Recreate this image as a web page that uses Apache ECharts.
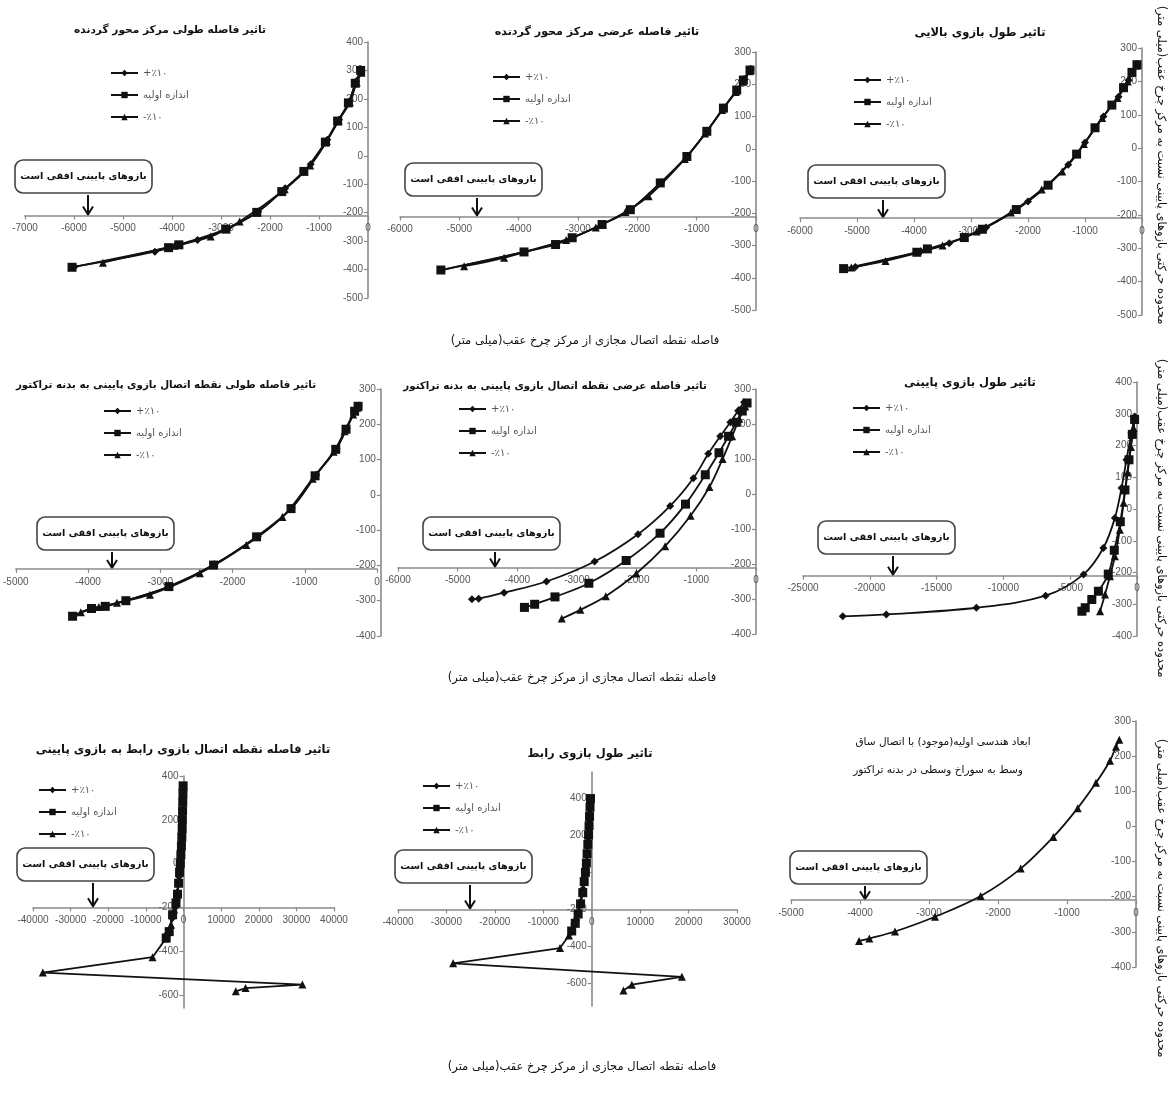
<!DOCTYPE html>
<html>
<head>
<meta charset="utf-8">
<script src="https://cdn.jsdelivr.net/npm/echarts@6/dist/echarts.min.js"></script>
<style>
  html, body { margin: 0; padding: 0; background: #fff; }
  #chart { width: 1173px; height: 1097px; }
</style>
</head>
<body>
<div id="chart"></div>
<script>
// ---- names and texts ----
const SERIES_NAMES = ['+٪۱۰', 'اندازه اولیه', '-٪۱۰'];
const BASE9_NAME = 'ابعاد هندسی اولیه';
const TITLES = [
  'تاثیر فاصله طولی مرکز محور گردنده',
  'تاثیر فاصله عرضی مرکز محور گردنده',
  'تاثیر طول بازوی بالایی',
  'تاثیر فاصله طولی نقطه اتصال بازوی پایینی به بدنه تراکتور',
  'تاثیر فاصله عرضی نقطه اتصال بازوی پایینی به بدنه تراکتور',
  'تاثیر طول بازوی پایینی',
  'تاثیر فاصله نقطه اتصال بازوی رابط به بازوی پایینی',
  'تاثیر طول بازوی رابط'
];
const TITLE9 = ['ابعاد هندسی اولیه(موجود) با اتصال ساق', 'وسط به سوراخ وسطی در بدنه تراکتور'];
const NOTE_TEXT = 'بازوهای پایینی افقی است';
const X_CAPTION = 'فاصله نقطه اتصال مجازی از مرکز چرخ عقب(میلی متر)';
const Y_CAPTION = 'محدوده حرکتی بازوهای پایینی نسبت به مرکز چرخ عقب(میلی متر)';

// ---- axis ranges and ticks ----
const X_RANGES = [[-7000, 0], [-6000, 0], [-6000, 0], [-5000, 0], [-6000, 0], [-25000, 0], [-40000, 40000], [-40000, 30000], [-5000, 0]];
const X_STEPS = [1000, 1000, 1000, 1000, 1000, 5000, 10000, 10000, 1000];
const Y_RANGES = [[-500, 400], [-500, 300], [-500, 300], [-400, 300], [-400, 300], [-400, 400], [-660, 400], [-720, 540], [-400, 300]];
const Y_STEPS = [100, 100, 100, 100, 100, 100, 200, 200, 100];
const Y_TICKS_WIDE = [-600, -400, -200, 0, 200, 400];
const X_AXIS_CROSS = [-210, -210, -210, -210, -210, -210, -200, -200, -210];
const Y_AXIS_CROSS = 0;

// ---- series values [x, y] ----
const c1Plus  = [[-140,297],[-240,262],[-380,191],[-590,127],[-830,56],[-1170,-30],[-1690,-114],[-2240,-196],[-2860,-255],[-3480,-296],[-4350,-337],[-5990,-390]];
const c1Base  = [[-150,300],[-260,255],[-400,186],[-620,122],[-870,48],[-1310,-55],[-1760,-126],[-2270,-199],[-2900,-258],[-3860,-313],[-4070,-323],[-6040,-392]];
const c1Minus = [[-130,292],[-230,258],[-370,188],[-600,124],[-840,52],[-1180,-34],[-1700,-118],[-2620,-231],[-3210,-284],[-3950,-316],[-5410,-376]];

const c2Plus  = [[-90,248],[-200,216],[-330,180],[-540,128],[-820,56],[-1160,-22],[-1600,-104],[-2110,-187],[-2590,-234],[-3090,-275],[-3900,-320],[-5300,-376]];
const c2Base  = [[-101,244],[-213,213],[-325,182],[-549,126],[-829,54],[-1165,-24],[-1613,-106],[-2118,-189],[-2594,-235],[-3098,-276],[-3378,-297],[-3910,-320],[-5311,-376]];
const c2Minus = [[-110,240],[-225,208],[-340,176],[-570,120],[-860,47],[-1200,-32],[-1810,-147],[-2200,-196],[-2700,-244],[-3200,-283],[-4246,-338],[-4919,-364]];

const c3Plus  = [[-80,252],[-235,203],[-412,154],[-676,95],[-1000,17],[-1294,-50],[-2000,-160],[-2735,-238],[-3382,-285],[-3882,-309],[-5029,-356]];
const c3Base  = [[-88,250],[-176,227],[-324,181],[-529,129],[-824,61],[-1147,-18],[-1647,-111],[-2206,-184],[-2800,-243],[-3118,-268],[-3765,-302],[-3950,-312],[-5235,-361]];
const c3Minus = [[-95,247],[-250,200],[-430,150],[-700,90],[-1020,12],[-1400,-70],[-1760,-124],[-2300,-193],[-2900,-250],[-3500,-292],[-4500,-338],[-5100,-358]];

const c4Plus  = [[-255,253],[-300,238],[-420,188],[-560,131],[-840,57],[-1180,-37],[-1650,-117],[-2250,-197],[-2870,-259],[-3460,-299],[-3750,-315],[-3950,-322],[-4200,-343]];
const c4Base  = [[-262,251],[-310,237],[-429,186],[-571,129],[-857,54],[-1190,-39],[-1667,-119],[-2262,-199],[-2881,-260],[-3476,-300],[-3762,-316],[-3952,-322],[-4214,-344]];
const c4Minus = [[-270,247],[-330,228],[-450,180],[-600,122],[-890,46],[-1310,-63],[-1810,-142],[-2452,-222],[-3143,-283],[-3600,-306],[-3850,-318],[-4100,-333]];

const c5Plus  = [[-200,262],[-300,238],[-430,205],[-600,165],[-800,115],[-1050,45],[-1438,-34],[-1977,-115],[-2705,-193],[-3511,-250],[-4222,-282],[-4648,-299],[-4761,-301]];
const c5Base  = [[-150,260],[-230,237],[-330,205],[-460,165],[-620,118],[-850,55],[-1182,-29],[-1608,-112],[-2176,-190],[-2801,-255],[-3369,-294],[-3710,-315],[-3881,-324]];
const c5Minus = [[-180,250],[-280,215],[-400,165],[-560,100],[-780,20],[-1097,-62],[-1523,-149],[-2006,-227],[-2517,-292],[-2943,-331],[-3256,-356]];

const c6Plus  = [[-173,291],[-420,239],[-790,155],[-1160,66],[-1654,-28],[-2519,-123],[-4000,-206],[-6840,-273],[-12025,-311],[-18765,-332],[-22025,-338]];
const c6Base  = [[-180,282],[-350,235],[-600,155],[-900,60],[-1250,-40],[-1700,-130],[-2150,-205],[-2889,-259],[-3383,-285],[-3877,-311],[-4123,-322]];
const c6Minus = [[-150,285],[-260,255],[-450,195],[-700,115],[-1000,20],[-1284,-65],[-1654,-149],[-2025,-212],[-2395,-269],[-2765,-322]];

const c7Plus  = [[-100,350],[-180,300],[-280,240],[-380,180],[-500,120],[-650,60],[-900,0],[-1200,-60],[-1600,-130],[-2200,-200],[-3000,-250],[-4200,-320]];
const c7Base  = [[-100,355],[-150,320],[-200,280],[-250,240],[-300,200],[-350,160],[-450,120],[-550,80],[-700,40],[-850,0],[-1050,-40],[-1300,-90],[-1600,-140],[-2000,-180],[-2900,-234],[-3800,-311],[-4600,-340]];
const c7Minus = [[-100,345],[-200,290],[-300,230],[-400,170],[-550,110],[-750,50],[-1000,-10],[-1350,-80],[-1800,-150],[-2500,-210],[-3300,-280],[-4700,-343],[-8230,-428],[-37400,-498],[31600,-553],[16500,-569],[13900,-584]];

const c8Plus  = [[-300,390],[-400,340],[-500,280],[-600,220],[-750,160],[-900,100],[-1100,40],[-1400,-20],[-1800,-90],[-2300,-160],[-2900,-220],[-3600,-280],[-4200,-320]];
const c8Base  = [[-250,397],[-350,350],[-450,300],[-550,250],[-650,200],[-800,150],[-950,100],[-1100,50],[-1300,0],[-1550,-50],[-1850,-110],[-2300,-170],[-2800,-225],[-3400,-275],[-4140,-316]];
const c8Minus = [[-300,385],[-450,320],[-600,250],[-750,180],[-950,110],[-1200,40],[-1500,-30],[-1900,-100],[-2500,-170],[-3200,-240],[-4000,-300],[-4700,-340],[-6550,-408],[-28620,-490],[18620,-563],[8280,-605],[6550,-636]];

const c9Base  = [[-242,247],[-290,227],[-377,187],[-580,124],[-845,52],[-1198,-30],[-1671,-120],[-2251,-198],[-2913,-257],[-3493,-299],[-3865,-319],[-4014,-326]];

const PANEL_SERIES = [
  [c1Plus, c1Base, c1Minus], [c2Plus, c2Base, c2Minus], [c3Plus, c3Base, c3Minus],
  [c4Plus, c4Base, c4Minus], [c5Plus, c5Base, c5Minus], [c6Plus, c6Base, c6Minus],
  [c7Plus, c7Base, c7Minus], [c8Plus, c8Base, c8Minus]
];

// ---- page layout (pixel boxes of each plot area) ----
const LAYOUT = [
  { x0: 25,  x1: 368,  y0: 42,  y1: 298 },
  { x0: 400, x1: 756,  y0: 52,  y1: 310 },
  { x0: 800, x1: 1142, y0: 48,  y1: 315 },
  { x0: 12,  x1: 377,  y0: 389, y1: 636 },
  { x0: 398, x1: 756,  y0: 389, y1: 634 },
  { x0: 803, x1: 1137, y0: 382, y1: 636 },
  { x0: 33,  x1: 334,  y0: 776, y1: 1008 },
  { x0: 398, x1: 737,  y0: 772, y1: 1006 },
  { x0: 791, x1: 1136, y0: 721, y1: 967 }
];
const TITLE_POS = [[170, 30], [597, 32], [980, 33], [166, 385], [555, 386], [970, 383], [183, 750], [590, 754]];
const TITLE_SIZE = [10.6, 11.1, 11.5, 10.3, 10.3, 11.5, 11.5, 11.5];
const TITLE9_POS = [[943, 742], [938, 770]];
const LEGEND_POS = [[110, 68], [492, 72], [853, 75], [103, 406], [458, 404], [852, 403], [38, 785], [422, 781]];
const NOTE_POS = [[15, 160, 88], [405, 163, 477], [808, 165, 883], [37, 517, 112], [423, 517, 495], [818, 521, 893], [17, 848, 93], [395, 850, 470], [790, 851, 865]];
const X_CAPTION_POS = [[585, 341], [582, 678], [582, 1067]];
const Y_CAPTION_POS = [[1161, 165], [1161, 518], [1161, 898]];

const FA = '"DejaVu Sans", sans-serif';
const NUM = '"Liberation Sans", Arial, sans-serif';
const AXIS_COLOR = '#8a8a8a';
const LABEL_COLOR = '#555';
const INK = '#111';

const grids = [], xAxes = [], yAxes = [], series = [], legends = [], graphics = [];

function crossPx(i) {
  const L = LAYOUT[i], yr = Y_RANGES[i];
  return L.y0 + (yr[1] - X_AXIS_CROSS[i]) / (yr[1] - yr[0]) * (L.y1 - L.y0);
}
const plain = v => String(v);

LAYOUT.forEach((L, i) => {
  const w = L.x1 - L.x0, h = L.y1 - L.y0;
  grids.push({ left: L.x0, top: L.y0, width: w, height: h, containLabel: false });
  const xr = X_RANGES[i], yr = Y_RANGES[i];
  // horizontal axis crosses the vertical one at X_AXIS_CROSS, vertical axis sits at x = 0
  const xOffset = -(X_AXIS_CROSS[i] - yr[0]) / (yr[1] - yr[0]) * h;
  const yOffset = -(Y_AXIS_CROSS - xr[0]) / (xr[1] - xr[0]) * w;
  xAxes.push({
    gridIndex: i, type: 'value', min: xr[0], max: xr[1], interval: X_STEPS[i],
    position: 'bottom', offset: xOffset,
    axisLine: { onZero: false, lineStyle: { color: AXIS_COLOR, width: 1.6 } },
    axisTick: { show: true, length: 4, lineStyle: { color: AXIS_COLOR, width: 1.2 } },
    axisLabel: { color: LABEL_COLOR, fontSize: 10, fontFamily: NUM, margin: 8, showMinLabel: true, showMaxLabel: true, formatter: plain },
    splitLine: { show: false }
  });
  const wide = (i === 6 || i === 7);
  const yAxis = {
    gridIndex: i, type: 'value', min: yr[0], max: yr[1],
    position: 'left', offset: yOffset,
    axisLine: { onZero: false, lineStyle: { color: AXIS_COLOR, width: 1.6 } },
    axisTick: { show: true, length: 4, lineStyle: { color: AXIS_COLOR, width: 1.2 } },
    axisLabel: { color: LABEL_COLOR, fontSize: 10, fontFamily: NUM, margin: 5, formatter: plain },
    splitLine: { show: false }
  };
  if (wide) {
    yAxis.axisTick.customValues = Y_TICKS_WIDE;
    yAxis.axisLabel.customValues = Y_TICKS_WIDE;
  } else {
    yAxis.interval = Y_STEPS[i];
  }
  yAxes.push(yAxis);
});

const MARKS = [
  { symbol: 'diamond', symbolSize: 8 },
  { symbol: 'rect', symbolSize: 9 },
  { symbol: 'triangle', symbolSize: 8 }
];

function addLine(i, name, data, mark, smooth) {
  series.push({
    type: 'line', name: name, xAxisIndex: i, yAxisIndex: i, data: data,
    symbol: mark.symbol, symbolSize: mark.symbolSize, showAllSymbol: true,
    smooth: smooth, clip: false,
    lineStyle: { color: INK, width: 1.8 },
    itemStyle: { color: INK },
    emphasis: { disabled: true }
  });
}

PANEL_SERIES.forEach((set, i) => {
  const smooth = (i === 6 || i === 7) ? false : 0.35;
  set.forEach((data, k) => addLine(i, SERIES_NAMES[k], data, MARKS[k], smooth));
});
addLine(8, BASE9_NAME, c9Base, MARKS[2], 0.35);

LEGEND_POS.forEach(p => {
  legends.push({
    data: SERIES_NAMES, orient: 'vertical', left: p[0], top: p[1], padding: 0,
    itemWidth: 27, itemHeight: 8, itemGap: 12, selectedMode: false,
    textStyle: { color: LABEL_COLOR, fontSize: 10, fontFamily: FA }
  });
});

function text(x, y, s, size, weight, extra) {
  graphics.push(Object.assign({
    type: 'text', x: x, y: y, silent: true,
    style: { text: s, fontSize: size, fontWeight: weight, fontFamily: FA, fill: INK, align: 'center', verticalAlign: 'middle' }
  }, extra || {}));
}

TITLES.forEach((t, i) => text(TITLE_POS[i][0], TITLE_POS[i][1], t, TITLE_SIZE[i], 'bold'));
TITLE9.forEach((t, k) => text(TITLE9_POS[k][0], TITLE9_POS[k][1], t, 10.5, 'normal'));
X_CAPTION_POS.forEach(p => text(p[0], p[1], X_CAPTION, 11.5, 'normal'));
Y_CAPTION_POS.forEach(p => text(p[0], p[1], Y_CAPTION, 11.5, 'normal', { rotation: -Math.PI / 2 }));

NOTE_POS.forEach((p, i) => {
  const left = p[0], top = p[1], ax = p[2], w = 137, hgt = 33;
  const endY = crossPx(i) - 1;
  graphics.push({ type: 'rect', silent: true, shape: { x: left, y: top, width: w, height: hgt, r: 8 },
    style: { fill: '#fff', stroke: '#444', lineWidth: 1.6 } });
  text(left + w / 2, top + hgt / 2, NOTE_TEXT, 9.7, 'bold');
  graphics.push({ type: 'line', silent: true, shape: { x1: ax, y1: top + hgt + 2, x2: ax, y2: endY },
    style: { stroke: INK, lineWidth: 2 } });
  graphics.push({ type: 'polyline', silent: true,
    shape: { points: [[ax - 5, endY - 8], [ax, endY], [ax + 5, endY - 8]] },
    style: { stroke: INK, lineWidth: 2, fill: null } });
});

const chart = echarts.init(document.getElementById('chart'), null, { renderer: 'canvas' });
chart.setOption({
  animation: false,
  backgroundColor: '#fff',
  grid: grids,
  xAxis: xAxes,
  yAxis: yAxes,
  legend: legends,
  series: series,
  graphic: graphics
});
</script>
</body>
</html>
